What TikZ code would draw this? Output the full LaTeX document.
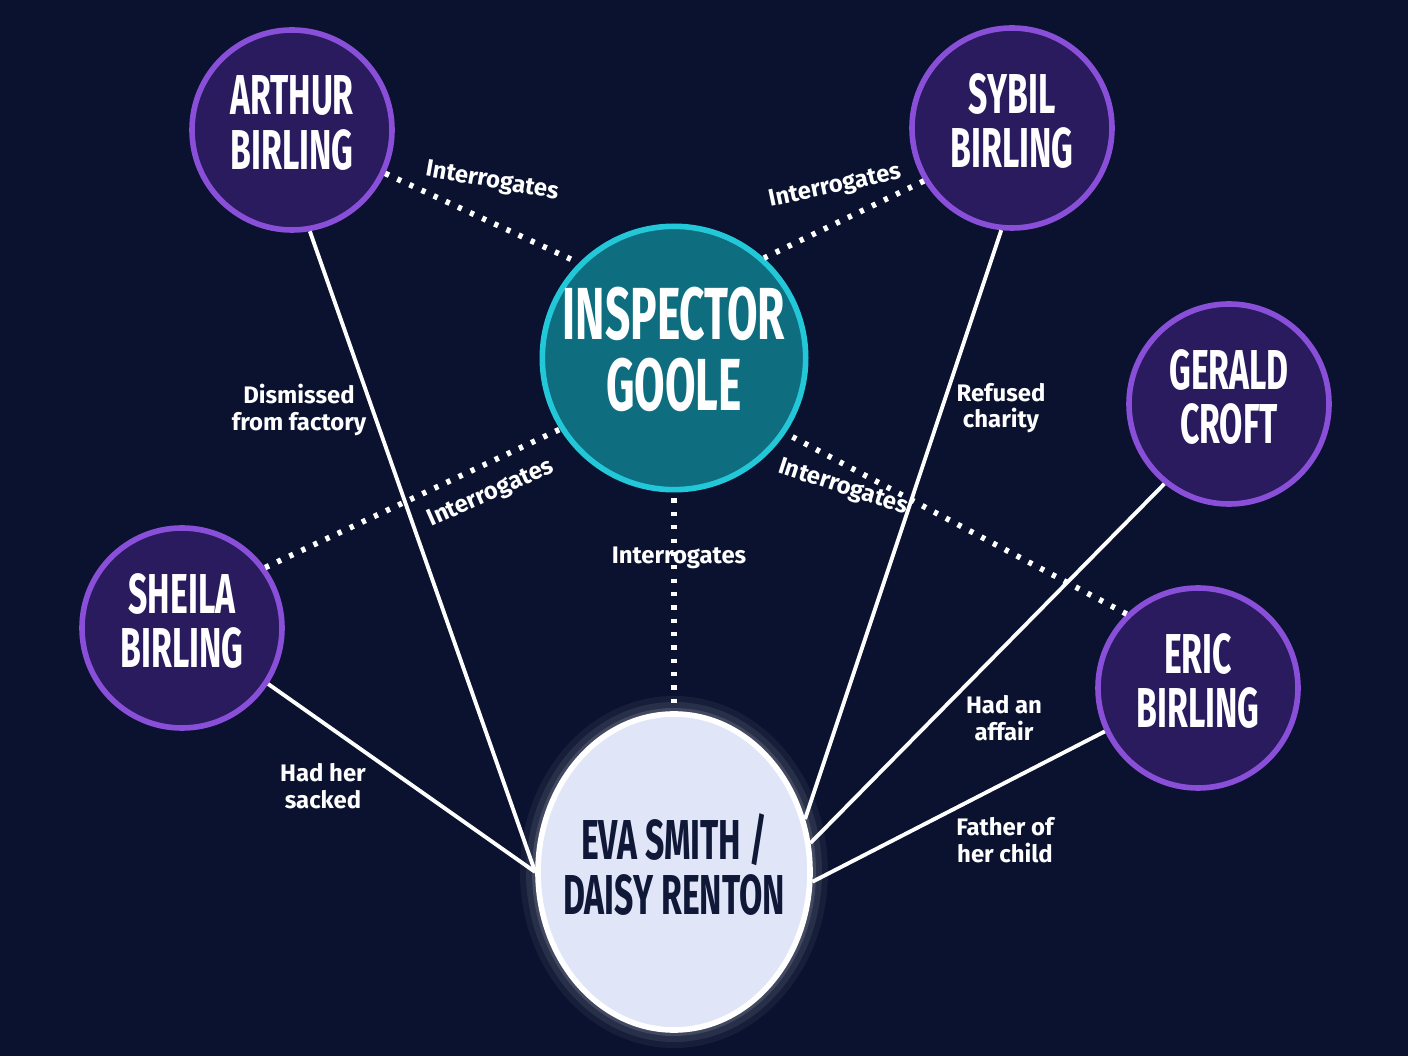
\documentclass[tikz,border=0pt]{standalone}
\usepackage{fontspec}
\setmainfont{Fira Sans}
\usepackage{graphicx}
\usetikzlibrary{shapes.geometric}
\definecolor{bgnavy}{HTML}{0A1230}
\definecolor{purfill}{HTML}{2A1A5E}
\definecolor{purline}{HTML}{8A4FD8}
\definecolor{tealfill}{HTML}{0E6E80}
\definecolor{tealline}{HTML}{22C8D8}
\definecolor{evafill}{HTML}{E0E6F8}
\definecolor{evatext}{HTML}{101838}
\newcommand{\nm}[4]{\scalebox{0.6}[1]{\fontsize{#1}{#2}\selectfont\bfseries\begin{tabular}{@{}c@{}}#3\\#4\end{tabular}}}
\begin{document}
\begin{tikzpicture}[
    person/.style={circle, draw=purline, line width=1.6pt, fill=purfill, text=white, minimum size=2cm, inner sep=0pt},
    inspector/.style={circle, draw=tealline, line width=1.6pt, fill=tealfill, text=white, minimum size=2.46cm, inner sep=0pt},
    victim/.style={ellipse, draw=white, line width=1.6pt, fill=evafill, text=evatext, minimum width=2.72cm, minimum height=3.16cm, inner xsep=-0.15cm, inner ysep=0pt},
    link/.style={white, line width=1.1pt},
    probe/.style={white, line width=1.6pt, dash pattern=on 1.2pt off 2.6pt},
    lbl/.style={text=white, font=\bfseries\fontsize{6.8}{7.6}\selectfont, align=center}
]
    \fill[bgnavy] (0,0) rectangle (14.08,10.56);

    % Characters
    \node[person] (arthur) at (2.92,9.26) {\nm{16}{14}{ARTHUR}{BIRLING}};
    \node[person] (sybil) at (10.12,9.28) {\nm{16}{14}{SYBIL}{BIRLING}};
    \node[person] (gerald) at (12.29,6.52) {\nm{16}{14}{GERALD}{CROFT}};
    \node[person] (sheila) at (1.82,4.28) {\nm{16}{14}{SHEILA}{BIRLING}};
    \node[person] (eric) at (11.98,3.68) {\nm{16}{14}{ERIC}{BIRLING}};
    \node[inspector] (goole) at (6.74,6.98) {\nm{21}{17.5}{INSPECTOR}{GOOLE}};

    % Glow and victim
    \foreach \g/\o in {0.18/0.05,0.12/0.08,0.06/0.12}
        \fill[white, opacity=\o] (6.74,1.84) ellipse ({1.36+\g} and {1.58+\g});
    \node[victim] (eva) at (6.74,1.84) {\nm{16}{15}{EVA SMITH /}{DAISY RENTON}};

    % Interrogations
    \draw[probe] (arthur.-25) -- (goole.135);
    \draw[probe] (sybil.211) -- (goole.48);
    \draw[probe] (sheila.36) -- (goole.212);
    \draw[probe] (eric.134) -- (goole.-34);
    \draw[probe] ([yshift=-0.06cm]goole.south) -- (eva.north);

    % Links to Eva
    \draw[link] (arthur.-80) -- (eva.180);
    \draw[link] (sheila.-33) -- (eva.180);
    \draw[link] (sybil.-96) -- (eva.22);
    \draw[link] (gerald.-129) -- (eva.12);
    \draw[link] (eric.205) -- (eva.-4);

    % Labels
    \node[lbl, rotate=-10] at (4.92,8.74) {Interrogates};
    \node[lbl, rotate=12] at (8.35,8.69) {Interrogates};
    \node[lbl, rotate=24] at (4.91,5.62) {Interrogates};
    \node[lbl, rotate=-18] at (8.43,5.68) {Interrogates};
    \node[lbl] at (6.79,4.98) {Interrogates};
    \node[lbl] at (2.99,6.46) {Dismissed\\from factory};
    \node[lbl] at (10.01,6.48) {Refused\\charity};
    \node[lbl] at (3.23,2.70) {Had her\\sacked};
    \node[lbl] at (10.04,3.38) {Had an\\affair};
    \node[lbl] at (10.05,2.16) {Father of\\her child};
\end{tikzpicture}
\end{document}
